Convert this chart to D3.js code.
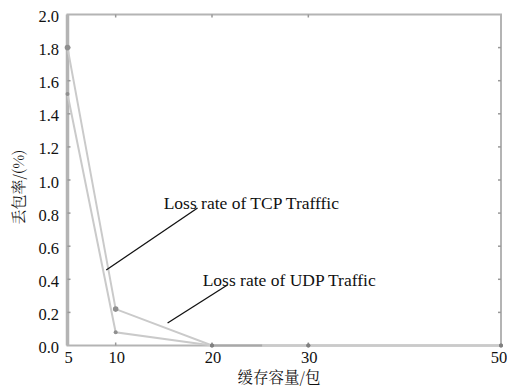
<!DOCTYPE html>
<html>
<head>
<meta charset="utf-8">
<script src="https://cdn.jsdelivr.net/npm/d3@7"></script>
<style>
  body { margin: 0; background: #fff; }
</style>
</head>
<body>
<svg id="chart" width="507" height="388"></svg>
<script>
// buffer size (packets) and loss rates (%)
const bufferSizes = [5, 10, 20, 30, 50];
const tcpLoss = [1.8, 0.22, 0, 0, 0];
const udpLoss = [1.52, 0.08, 0, 0, 0];
const xTicks = [5, 10, 20, 30, 50];
const yTicks = [0, 0.2, 0.4, 0.6, 0.8, 1.0, 1.2, 1.4, 1.6, 1.8, 2.0];
// annotation: label anchor, leader start, leader end (data coords)
const annoLabels = ['Loss rate of TCP Trafffic', 'Loss rate of UDP Traffic'];
const annoText = [[14.98, 0.825], [19.03, 0.36]];
const annoFrom = [[18.5, 0.831], [21.6, 0.366]];
const annoTo = [[9.02, 0.456], [15.39, 0.136]];

const serif = "'Liberation Serif'";
const cjk = "'Noto Serif CJK SC'";

const svg = d3.select('#chart');

const x = d3.scaleLinear().domain([5, 50]).range([67.5, 501]);
const y = d3.scaleLinear().domain([0, 2]).range([345.5, 14.5]);

const frameColor = '#b4b4b4';
const lineColor = '#cacaca';

// frame
svg.append('rect')
  .attr('x', x(5)).attr('y', y(2))
  .attr('width', x(50) - x(5)).attr('height', y(0) - y(2))
  .attr('fill', 'none').attr('stroke', frameColor).attr('stroke-width', 2);
svg.append('line')
  .attr('x1', x(5)).attr('x2', x(5)).attr('y1', y(2)).attr('y2', y(0))
  .attr('stroke', frameColor).attr('stroke-width', 3.5);

// inside ticks
const tickLen = 3;
svg.append('g').selectAll('line').data(yTicks.slice(1, -1)).enter().append('line')
  .attr('x1', x(5)).attr('x2', x(5) + tickLen)
  .attr('y1', d => y(d)).attr('y2', d => y(d))
  .attr('stroke', '#999').attr('stroke-width', 1.5);
svg.append('g').selectAll('line').data(yTicks.slice(1, -1)).enter().append('line')
  .attr('x1', x(50)).attr('x2', x(50) - tickLen)
  .attr('y1', d => y(d)).attr('y2', d => y(d))
  .attr('stroke', '#999').attr('stroke-width', 1.5);
svg.append('g').selectAll('line').data(xTicks.slice(1, -1)).enter().append('line')
  .attr('x1', d => x(d)).attr('x2', d => x(d))
  .attr('y1', y(2)).attr('y2', y(2) + tickLen)
  .attr('stroke', '#999').attr('stroke-width', 1.5);
svg.append('g').selectAll('line').data(xTicks.slice(1, -1)).enter().append('line')
  .attr('x1', d => x(d)).attr('x2', d => x(d))
  .attr('y1', y(0)).attr('y2', y(0) - tickLen)
  .attr('stroke', '#999').attr('stroke-width', 1.5);

// tick labels
svg.append('g').selectAll('text').data(yTicks).enter().append('text')
  .attr('x', x(5) - 8.5).attr('y', d => y(d) + 7.5)
  .attr('text-anchor', 'end')
  .style('font-family', serif).style('font-size', '16.5px').attr('fill', '#111')
  .text(d => d.toFixed(1));
svg.append('g').selectAll('text').data(xTicks).enter().append('text')
  .attr('x', d => Math.min(x(d) + 1, 499)).attr('y', y(0) + 17)
  .attr('text-anchor', 'middle')
  .style('font-family', serif).style('font-size', '16.5px').attr('fill', '#111')
  .text(d => d);

// axis titles
svg.append('text')
  .attr('x', 279).attr('y', 383)
  .attr('text-anchor', 'middle')
  .style('font-family', cjk).style('font-size', '15.5px').attr('fill', '#111')
  .text('缓存容量/包');
svg.append('text')
  .attr('transform', 'translate(24,187) rotate(-90)')
  .attr('text-anchor', 'middle')
  .style('font-family', cjk).style('font-size', '15px').attr('fill', '#111')
  .text('丢包率/(%)');

// series
const line = d3.line().x(d => x(d[0])).y(d => y(d[1]));
[tcpLoss, udpLoss].forEach(vals => {
  const pts = bufferSizes.map((b, i) => [b, vals[i]]);
  svg.append('path').datum(pts)
    .attr('d', line).attr('fill', 'none')
    .attr('stroke', lineColor).attr('stroke-width', 2);
});
// darker overlap near the baseline
svg.append('line')
  .attr('x1', x(20)).attr('x2', x(25.2)).attr('y1', y(0)).attr('y2', y(0))
  .attr('stroke', '#a8a8a8').attr('stroke-width', 2);

[tcpLoss, udpLoss].forEach((vals, k) => {
  svg.append('g').selectAll('circle').data(bufferSizes).enter().append('circle')
    .attr('cx', d => x(d)).attr('cy', (d, i) => y(vals[i]))
    .attr('r', (d, i) => (vals[i] > 0 && k === 0) ? 2.8 : 2)
    .attr('fill', (d, i) => vals[i] > 0 ? '#8f8f8f' : '#808080');
});

// annotations
annoLabels.forEach((lab, i) => {
  svg.append('text')
    .attr('x', x(annoText[i][0])).attr('y', y(annoText[i][1]))
    .style('font-family', serif).style('font-size', '17.5px').attr('fill', '#111')
    .text(lab);
  svg.append('line')
    .attr('x1', x(annoFrom[i][0])).attr('y1', y(annoFrom[i][1]))
    .attr('x2', x(annoTo[i][0])).attr('y2', y(annoTo[i][1]))
    .attr('stroke', '#111').attr('stroke-width', 1.3);
});
</script>
</body>
</html>
